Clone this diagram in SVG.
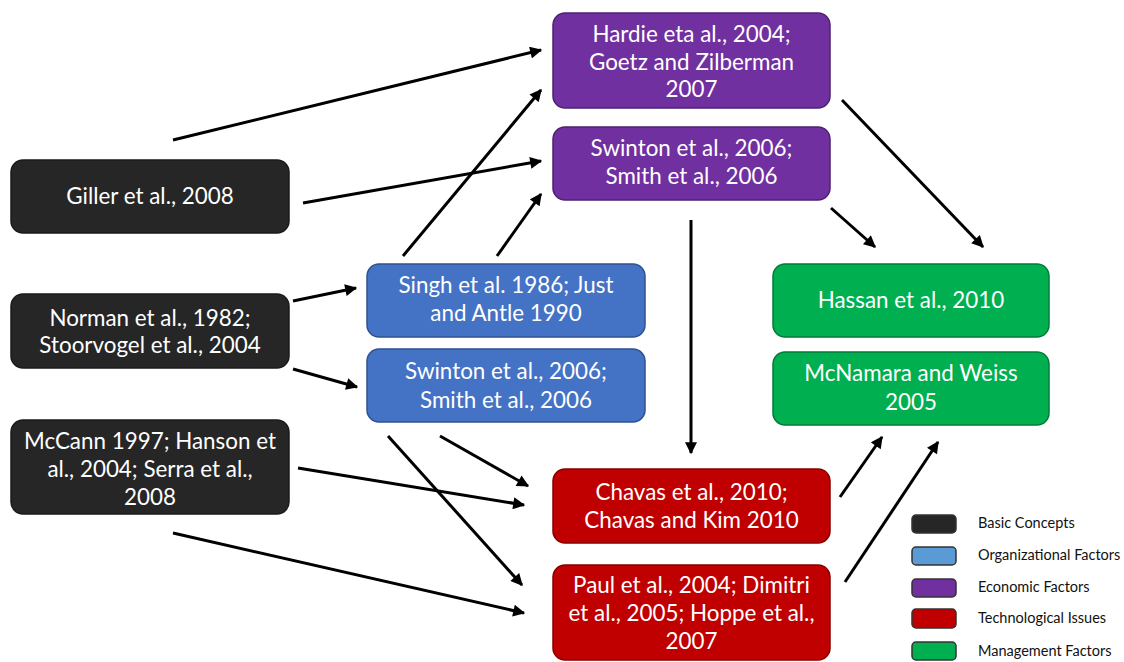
<svg xmlns="http://www.w3.org/2000/svg" width="1124" height="662" viewBox="0 0 1124 662">
<style>
  .node text { font-family: Lato, "Open Sans", "Liberation Sans", sans-serif; font-size: 22.4px; fill: #ffffff; text-anchor: middle; }
  .blk rect { fill: #262626; stroke: #1a1a1a; stroke-width: 1.5; }
  .org rect { fill: #4472C4; stroke: #2f528f; stroke-width: 1.5; }
  .eco rect { fill: #7030A0; stroke: #4e2170; stroke-width: 1.5; }
  .tec rect { fill: #C00000; stroke: #860000; stroke-width: 1.5; }
  .man rect { fill: #00B050; stroke: #007b38; stroke-width: 1.5; }
  .conn line { stroke: #000; stroke-width: 3; marker-end: url(#ah); }
  .leg text { font-family: Lato, "Open Sans", "Liberation Sans", sans-serif; font-size: 14.5px; fill: #111; }
  .leg rect { stroke: #333; stroke-width: 1.5; }
</style>
<defs>
  <marker id="ah" viewBox="0 0 10 10" refX="9" refY="5" markerWidth="4.5" markerHeight="4" orient="auto" markerUnits="strokeWidth">
    <path d="M0,0 L10,5 L0,10 z" fill="#000"/>
  </marker>
</defs>
<rect width="1124" height="662" fill="#ffffff"/>

<g id="connectors" class="conn">
  <line x1="173" y1="140" x2="541" y2="50"/>
  <line x1="303" y1="203" x2="541" y2="161"/>
  <line x1="403" y1="256" x2="541" y2="90"/>
  <line x1="497" y1="256" x2="541" y2="194"/>
  <line x1="293" y1="301" x2="356" y2="288"/>
  <line x1="293" y1="369" x2="357" y2="387"/>
  <line x1="440" y1="436" x2="528" y2="486"/>
  <line x1="298" y1="468" x2="524" y2="505"/>
  <line x1="388" y1="436" x2="522" y2="585"/>
  <line x1="173" y1="533" x2="524" y2="613"/>
  <line x1="691" y1="220" x2="691" y2="453"/>
  <line x1="842" y1="100" x2="983" y2="247"/>
  <line x1="831" y1="208" x2="875" y2="247"/>
  <line x1="840" y1="497" x2="882" y2="437"/>
  <line x1="845" y1="582" x2="938" y2="442"/>
</g>

<g id="n-hardie" class="node eco">
  <rect x="553" y="13" width="277" height="95" rx="12"/>
  <text x="691.5" y="42">Hardie eta al., 2004;</text>
  <text x="691.5" y="70">Goetz and Zilberman</text>
  <text x="691.5" y="97">2007</text>
</g>
<g id="n-swinton-eco" class="node eco">
  <rect x="553" y="127" width="277" height="73" rx="12"/>
  <text x="691.5" y="156">Swinton et al., 2006;</text>
  <text x="691.5" y="184">Smith et al., 2006</text>
</g>
<g id="n-giller" class="node blk">
  <rect x="11" y="160" width="278" height="73" rx="12"/>
  <text x="150" y="204">Giller et al., 2008</text>
</g>
<g id="n-norman" class="node blk">
  <rect x="11" y="294" width="278" height="74" rx="12"/>
  <text x="150" y="326">Norman et al., 1982;</text>
  <text x="150" y="353">Stoorvogel et al., 2004</text>
</g>
<g id="n-mccann" class="node blk">
  <rect x="11" y="420" width="278" height="94" rx="12"/>
  <text x="150" y="449">McCann 1997; Hanson et</text>
  <text x="150" y="477">al., 2004; Serra et al.,</text>
  <text x="150" y="505">2008</text>
</g>
<g id="n-singh" class="node org">
  <rect x="367" y="264" width="278" height="73" rx="12"/>
  <text x="506" y="293">Singh et al. 1986; Just</text>
  <text x="506" y="321">and Antle 1990</text>
</g>
<g id="n-swinton-org" class="node org">
  <rect x="367" y="349" width="278" height="73" rx="12"/>
  <text x="506" y="379">Swinton et al., 2006;</text>
  <text x="506" y="408">Smith et al., 2006</text>
</g>
<g id="n-chavas" class="node tec">
  <rect x="553" y="469" width="277" height="74" rx="12"/>
  <text x="691.5" y="500">Chavas et al., 2010;</text>
  <text x="691.5" y="528">Chavas and Kim 2010</text>
</g>
<g id="n-paul" class="node tec">
  <rect x="553" y="565" width="277" height="95" rx="12"/>
  <text x="691.5" y="593">Paul et al., 2004; Dimitri</text>
  <text x="691.5" y="621">et al., 2005; Hoppe et al.,</text>
  <text x="691.5" y="649">2007</text>
</g>
<g id="n-hassan" class="node man">
  <rect x="773" y="264" width="276" height="73" rx="12"/>
  <text x="911" y="308">Hassan et al., 2010</text>
</g>
<g id="n-mcnamara" class="node man">
  <rect x="773" y="352" width="276" height="73" rx="12"/>
  <text x="911" y="381">McNamara and Weiss</text>
  <text x="911" y="410">2005</text>
</g>

<g id="legend" class="leg">
  <rect x="912" y="515" width="44" height="18" rx="4" fill="#262626"/>
  <rect x="912" y="547" width="44" height="18" rx="4" fill="#5B9BD5"/>
  <rect x="912" y="579" width="44" height="18" rx="4" fill="#7030A0"/>
  <rect x="912" y="609" width="44" height="19" rx="4" fill="#C00000"/>
  <rect x="912" y="642" width="44" height="18" rx="4" fill="#00B050"/>
  <text x="978" y="528">Basic Concepts</text>
  <text x="978" y="560">Organizational Factors</text>
  <text x="978" y="592">Economic Factors</text>
  <text x="978" y="623">Technological Issues</text>
  <text x="978" y="656">Management Factors</text>
</g>
</svg>
